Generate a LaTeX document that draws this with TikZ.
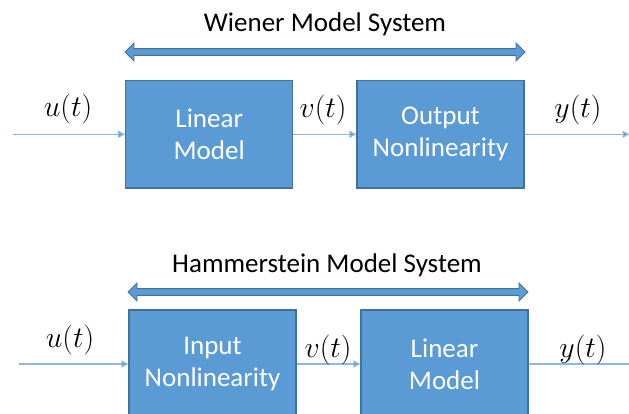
\documentclass[tikz,border=0pt]{standalone}
\usepackage{graphicx}
\usepackage{fontspec}
\setmainfont{Carlito}
\usetikzlibrary{arrows.meta}
\definecolor{boxfill}{HTML}{5B9BD5}
\definecolor{boxline}{HTML}{41719C}
\definecolor{wire}{HTML}{8DB8E2}
\newcommand{\biglbl}[1]{\scalebox{1.2}{$#1$}}
\tikzset{
  blk/.style={rectangle, draw=boxline, fill=boxfill, line width=1.2pt,
    minimum width=167pt, minimum height=107.5pt, inner sep=0pt,
    text=white, align=center, font=\fontsize{27}{32}\selectfont},
  sig/.style={draw=wire, line width=1.3pt, -{Triangle[length=7pt,width=7pt,fill=boxfill]}},
  ttl/.style={font=\fontsize{27}{32}\selectfont, inner sep=0pt},
  lbl/.style={font=\fontsize{24.88}{30}\selectfont, inner sep=0pt, anchor=base},
  bigarrow/.style={draw=boxline, fill=boxfill, line width=0.9pt, line join=miter}
}
\begin{document}
\begin{tikzpicture}[x=1pt,y=-1pt]
\useasboundingbox (0,0) rectangle (629,414);
\clip (0,0) rectangle (629,414);
% ---------- Wiener ----------
\node[ttl] (t1) at (325,24) {Wiener Model System};
\draw[bigarrow] (125,52) -- (134,43) -- (134,48.6) -- (516,48.6) -- (516,43) -- (525,52)
  -- (516,61) -- (516,55.4) -- (134,55.4) -- (134,61) -- cycle;
\node[blk] (lin1) at (209.2,134.3) {Linear\\Model};
\node[blk] (out1) at (440.5,134.3) {Output\\Nonlinearity};
\coordinate (in1) at (13,134.3);
\coordinate (end1) at (629.5,134.3);
\draw[sig] (in1) -- (lin1.west);
\draw[sig] (lin1.east) -- (out1.west);
\draw[sig] (out1.east) -- (end1);
\node[lbl] (u1) at (68,117) {\biglbl{u(t)}};
\node[lbl] (v1) at (323,118) {\biglbl{v(t)}};
\node[lbl] (y1) at (578,118) {\biglbl{y(t)}};
% ---------- Hammerstein ----------
\node[ttl] (t2) at (327,265) {Hammerstein Model System};
\draw[bigarrow] (128,292) -- (137,283) -- (137,288.6) -- (519,288.6) -- (519,283) -- (528,292)
  -- (519,301) -- (519,295.4) -- (137,295.4) -- (137,301) -- cycle;
\node[blk, minimum height=108pt] (inp2) at (212.5,364) {Input\\Nonlinearity};
\node[blk, minimum height=108pt] (lin2) at (444.5,364) {Linear\\Model};
\coordinate (in2) at (19,364);
\coordinate (end2) at (640,364);
\draw[sig] (in2) -- (inp2.west);
\draw[sig] (inp2.east) -- (lin2.west);
\draw[sig] (lin2.east) -- (end2);
\node[lbl] (u2) at (70,347) {\biglbl{u(t)}};
\node[lbl] (v2) at (328,357) {\biglbl{v(t)}};
\node[lbl] (y2) at (583,357) {\biglbl{y(t)}};
\end{tikzpicture}
\end{document}
